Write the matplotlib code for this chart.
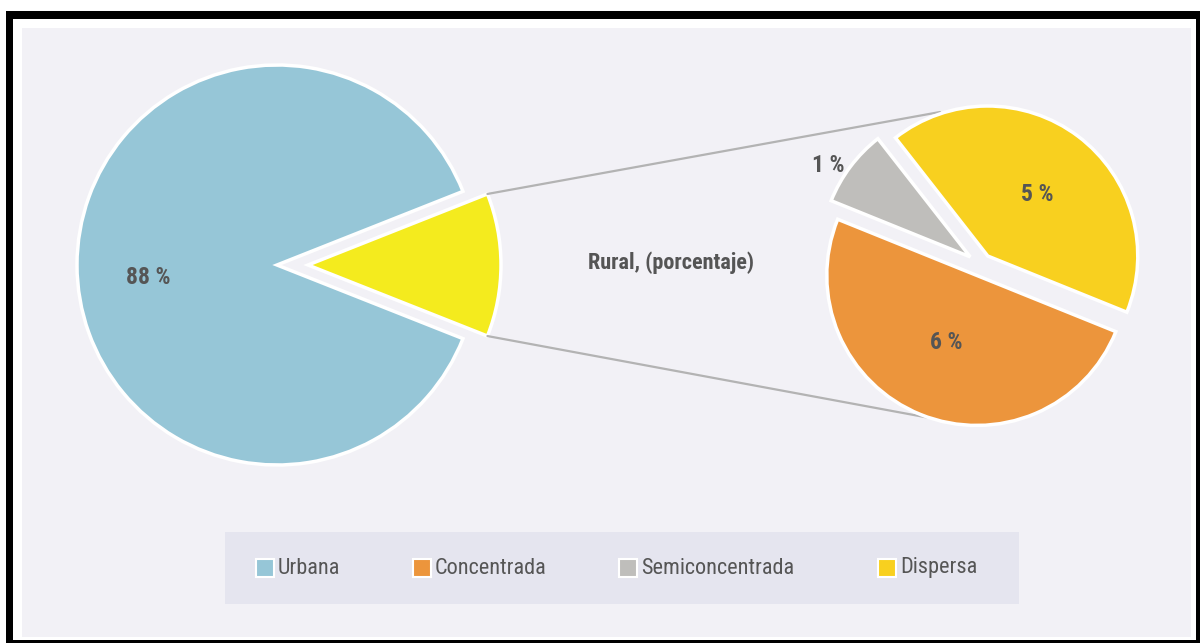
import matplotlib
matplotlib.use("Agg")
import matplotlib.pyplot as plt
from matplotlib.patches import Rectangle, ConnectionPatch
import numpy as np
from matplotlib import font_manager

W, H = 1200, 643
cands = ['Roboto Condensed', 'Open Sans Condensed', 'Liberation Sans Narrow', 'Noto Sans Condensed']
names = {f.name for f in font_manager.fontManager.ttflist}
chosen = [c for c in cands if c in names]
FONT = chosen[:1] + ['DejaVu Sans']
plt.rcParams['font.family'] = FONT
STRETCH = 'condensed'

# ---- data ----
main_labels = ["Urbana", "Rural"]
main_values = [88, 12]
rural_labels = ["Concentrada", "Semiconcentrada", "Dispersa"]
rural_values = [6, 1, 5]
legend_labels = ["Urbana", "Concentrada", "Semiconcentrada", "Dispersa"]
title_rural = "Rural, (porcentaje)"

c_blue = "#96c6d7"
c_lemon = "#f4eb1e"
c_orange = "#ec953c"
c_gray = "#bfbebb"
c_yellow = "#f8d01f"
bg = "#f2f1f6"
txt = "#555555"

fig = plt.figure(figsize=(W / 100, H / 100), dpi=100)
fig.patch.set_facecolor("white")

def frect(x0, y0, x1, y1, color, z):
    r = Rectangle((x0 / W, 1 - y1 / H), (x1 - x0) / W, (y1 - y0) / H,
                  transform=fig.transFigure, facecolor=color, edgecolor="none", zorder=z)
    fig.patches.append(r)

frect(6, 11, 1205, 650, "black", -10)
frect(13, 19, 1196, 640, "white", -9)
frect(22, 28, 1191, 637, bg, -8)
frect(225, 532, 1019, 604, "#e5e5ef", -7)

def add_ax(cx, cy, r, lim=1.25):
    half = r * lim
    ax = fig.add_axes([(cx - half) / W, (H - cy - half) / H, 2 * half / W, 2 * half / H])
    ax.set_xlim(-lim, lim)
    ax.set_ylim(-lim, lim)
    ax.set_aspect("auto")
    ax.axis("off")
    ax.patch.set_alpha(0)
    return ax

# ---- left pie ----
ax1 = add_ax(277, 265, 200)
half_r = 360 * main_values[1] / 100 / 2
w1, _ = ax1.pie(main_values, colors=[c_blue, c_lemon], startangle=half_r,
                explode=[0, 0.155], counterclock=True,
                wedgeprops=dict(edgecolor="white", linewidth=2.5))
w1[1].set_radius(0.965)
ax1.text(-0.645, -0.06, f"{main_values[0]} %", ha="center", va="center",
         fontsize=17, fontweight="bold", color=txt, fontstretch=STRETCH)

# ---- right pie ----
ax2 = add_ax(981, 265, 150)
explode = [0.075, 0.09, 0.075]
# Dispersa starts at -22 deg, then Semiconcentrada, then Concentrada (counter-clockwise)
w2r, _ = ax2.pie(rural_values[::-1], colors=[c_yellow, c_gray, c_orange], startangle=-22,
                 counterclock=True, explode=explode[::-1],
                 wedgeprops=dict(edgecolor="white", linewidth=2.5))

label_pos = [(-0.233, -0.515), (-1.02, 0.665), (0.373, 0.472)]
for (x, y), v in zip(label_pos, rural_values):
    ax2.text(x, y, f"{v} %", ha="center", va="center", fontsize=17,
             fontweight="bold", color=txt, fontstretch=STRETCH)

# ---- connector lines ----
a = np.deg2rad(half_r)
ystart = 0.965 * np.sin(a)
xstart = 0.155 + 0.965 * np.cos(a)
for ys, end in [(ystart, (-0.273, 1.02)), (-ystart, (-0.34, -1.02))]:
    con = ConnectionPatch(xyA=(xstart, ys), coordsA=ax1.transData,
                          xyB=end, coordsB=ax2.transData,
                          color="#b3b3b3", linewidth=1.6, zorder=0)
    ax2.add_artist(con)

fig.text(671 / W, 1 - 263 / H, title_rural, ha="center", va="center",
         fontsize=16, fontweight="bold", color=txt, fontstretch=STRETCH)

# ---- legend ----
leg_colors = [c_blue, c_orange, c_gray, c_yellow]
leg_x = [264.5, 421.5, 628, 887]
for x, lab, col in zip(leg_x, legend_labels, leg_colors):
    s = 18
    r = Rectangle(((x - s / 2) / W, 1 - (568 + s / 2) / H), s / W, s / H,
                  transform=fig.transFigure, facecolor=col, edgecolor="white",
                  linewidth=1.5, zorder=5)
    fig.patches.append(r)
    fig.text((x + 13.5) / W, 1 - 568 / H, lab, ha="left", va="center",
             fontsize=16, color=txt, fontstretch=STRETCH)

fig.savefig("out.png", dpi=100, facecolor=fig.get_facecolor())
